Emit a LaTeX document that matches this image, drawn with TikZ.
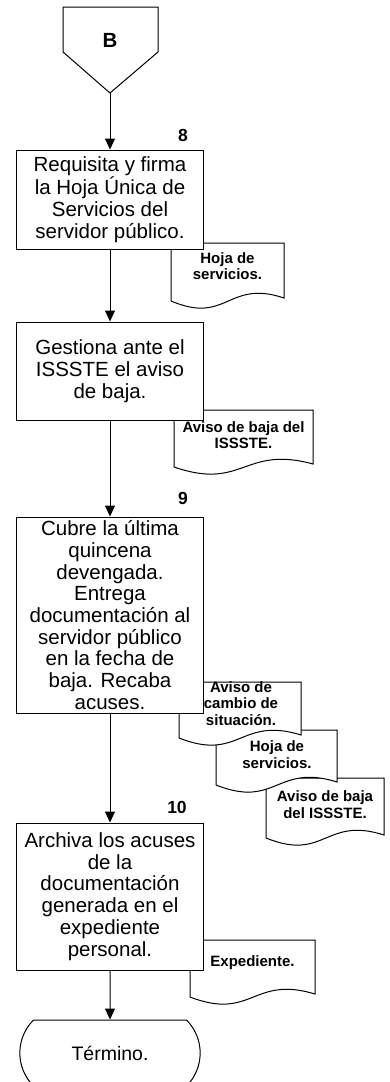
\documentclass[tikz,border=0pt]{standalone}
\usepackage{fontspec}
\setmainfont{Liberation Sans}
\usetikzlibrary{arrows.meta,shapes.misc,positioning}

\tikzset{
  paso/.style={draw, fill=white, line width=1pt, align=center, inner sep=2pt,
    minimum width=187pt, font=\fontsize{20.5}{21.7}\selectfont},
  doctxt/.style={align=center, inner sep=0pt, font=\bfseries\fontsize{15}{16.5}\selectfont},
  numero/.style={inner sep=0pt, font=\bfseries\fontsize{17.5}{20}\selectfont},
  fin/.style={draw, fill=white, line width=1pt, rounded rectangle,
    rounded rectangle arc length=90, minimum width=187pt, minimum height=66pt,
    font=\fontsize{19.5}{22}\selectfont},
  flujo/.style={->, line width=1pt},
  hoja/.style={draw, fill=white, line width=1pt}
}

\begin{document}
\begin{tikzpicture}[>={Triangle[length=11pt,width=10pt]},x=1pt,y=-1pt]
\useasboundingbox (0,0) rectangle (389,1082);
\clip (0,0) rectangle (389,1082);

% document with wavy bottom: left, top, right, bottom (left end)
\def\docshape#1#2#3#4{
	\draw[hoja] (#1,#2) -- (#3,#2) -- (#3,#4-3)
		.. controls ({0.5*(#1+#3)},#4-22) and ({0.5*(#1+#3)},#4+24) .. (#1,#4) -- cycle;
}

% connector B
\draw[line width=1pt] (63,7) -- (158,7) -- (158,52) -- (110,93) -- (63,52) -- cycle;
\node[font=\bfseries\fontsize{20.5}{22}\selectfont] (conB) at (110,40) {B};
\coordinate (conBtip) at (110,93);

% documents (back to front)
\foreach \xa/\ya/\xb/\yb in {171/243/284/301, 174/410/313/467, 266/778/384/838,
	216/730/337/785, 179/682/301/738, 190/940/315/997} {
	\docshape{\xa}{\ya}{\xb}{\yb}
}
\node[doctxt] (hoja1) at (227.5,266) {Hoja de\\servicios.};
\node[doctxt] (aviso1) at (243.5,435) {Aviso de baja del\\ISSSTE.};
\node[doctxt] (aviso2) at (325,804.5) {Aviso de baja\\del ISSSTE.};
\node[doctxt] (hoja2) at (277,754.5) {Hoja de\\servicios.};
\node[doctxt] (cambio) at (241,703.5) {Aviso de\\cambio de\\situación.};
\node[doctxt] (exped) at (252.5,963) {Expediente.};

% steps
\node[paso, minimum height=99pt] (req) at (110,199.5)
	{Requisita y firma\\la Hoja Única de\\Servicios del\\servidor público.};
\node[paso, minimum height=98pt] (gest) at (110,371)
	{Gestiona ante el\\ISSSTE el aviso\\de baja.};
\node[paso, minimum height=196pt] (cubre) at (110,615)
	{Cubre la última\\quincena\\devengada.\\Entrega\\documentación al\\servidor público\\en la fecha de\\baja. Recaba\\acuses.};
\node[paso, minimum height=147pt] (arch) at (110,896.5)
	{Archiva los acuses\\de la\\documentación\\generada en el\\expediente\\personal.};
\node[fin] (term) at (110,1053) {Término.};

\node[numero] (num8) at (183,135) {8};
\node[numero] (num9) at (183,498) {9};
\node[numero] (num10) at (177,807) {10};

\draw[flujo] (conBtip) -- (req);
\draw[flujo] (req) -- (gest);
\draw[flujo] (gest) -- (cubre);
\draw[flujo] (cubre) -- (arch);
\draw[flujo] (arch) -- (term);

\end{tikzpicture}
\end{document}
